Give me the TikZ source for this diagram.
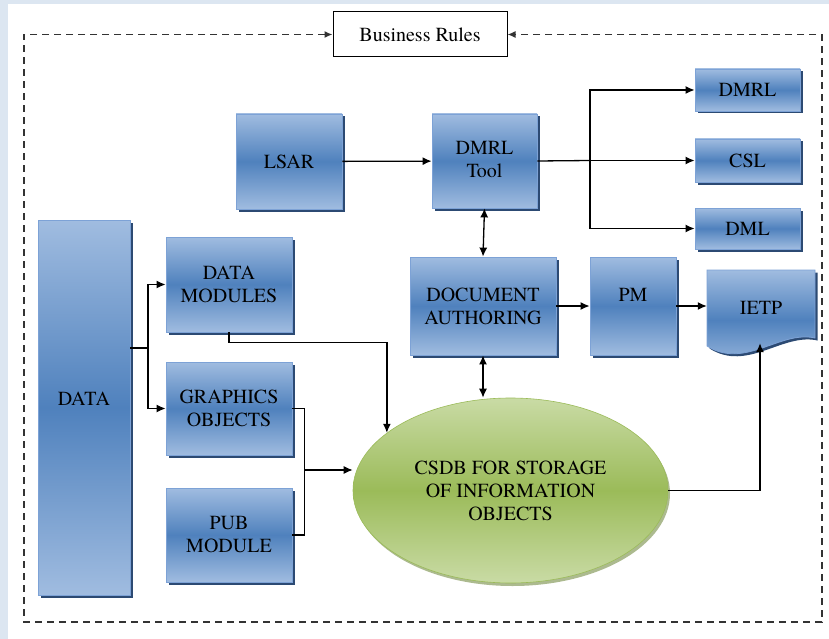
\documentclass[tikz,border=0pt]{standalone}
\usepackage{fontspec}
\setmainfont{texgyretermes}[Extension=.otf, UprightFont=*-regular, BoldFont=*-bold]
\usetikzlibrary{arrows.meta,shapes.geometric,shadows}
\definecolor{boxlight}{HTML}{A0BCE0}
\definecolor{boxdark}{HTML}{4F81BD}
\definecolor{boxedge}{HTML}{7DA2D6}
\definecolor{boxshade}{HTML}{2C4A73}
\definecolor{dblight}{HTML}{C9DBA5}
\definecolor{dbdark}{HTML}{9BBB59}
\definecolor{dbshade}{HTML}{8A9E60}
\definecolor{pagetint}{HTML}{DCE6F1}
\definecolor{framegray}{HTML}{333333}
\newcommand{\lw}{1.3pt}
\newcommand{\txt}{\rmfamily\fontsize{20}{23}\selectfont}

\tikzset{
  blueshade/.style={draw=boxedge, line width=0.8pt, top color=boxlight, bottom color=boxlight, middle color=boxdark,
    drop shadow={shadow xshift=2.5pt, shadow yshift=-2.5pt, fill=boxshade, opacity=1}},
  bluebox/.style={blueshade, rectangle, inner sep=0pt, align=center, font=\txt},
  dbnode/.style={ellipse, draw=dbdark, line width=0.6pt, top color=dblight, bottom color=dblight, middle color=dbdark,
    drop shadow={shadow xshift=2pt, shadow yshift=-3pt, fill=dbshade, opacity=0.7}, inner sep=0pt, align=center, font=\txt},
  rulebox/.style={draw=black, line width=1pt, fill=white, inner sep=0pt, font=\txt},
  link/.style={line width=\lw, black},
  flow/.style={link, -{Latex[length=9pt,width=8pt]}},
  twoway/.style={link, {Latex[length=9pt,width=8pt]}-{Latex[length=9pt,width=8pt]}},
  frame/.style={line width=1.4pt, framegray, dash pattern=on 7pt off 5pt, {Latex[length=8pt,width=7pt]}-{Latex[length=8pt,width=7pt]}}
}

\begin{document}
\begin{tikzpicture}[x=1pt, y=-1pt]
\useasboundingbox (0,0) rectangle (829,639);
\fill[pagetint] (0,0) rectangle (829,639);
\fill[white] (8,4) rectangle (829,639);

% top row
\node[rulebox, minimum width=174pt, minimum height=45pt] (br) at (420,34.5) {Business Rules};
\node[bluebox, minimum width=106pt, minimum height=95pt] (lsar) at (289,161.5) {LSAR};
\node[bluebox, minimum width=105pt, minimum height=94pt] (tool) at (484.5,161) {~\\[-12pt]DMRL\\Tool};
\node[bluebox, minimum width=105pt, minimum height=42pt] (dmrl) at (747.5,90) {DMRL};
\node[bluebox, minimum width=105pt, minimum height=43pt] (csl) at (747.5,160.5) {CSL};
\node[bluebox, minimum width=105pt, minimum height=41pt] (dml) at (747.5,228.5) {DML};

% middle row
\node[bluebox, minimum width=146pt, minimum height=98pt] (doc) at (483,306) {DOCUMENT\\AUTHORING};
\node[bluebox, minimum width=86pt, minimum height=98pt] (pm) at (633,306) {PM\\~};
\coordinate (ietpnw) at (707,270);
\coordinate (ietpse) at (815,346);
\shade[blueshade] (ietpnw) -- (ietpnw -| ietpse) -- ([yshift=8pt]ietpse)
  .. controls ([xshift=-35pt,yshift=16pt]ietpse) and ([xshift=38pt,yshift=-24pt]ietpse -| ietpnw) .. (ietpse -| ietpnw) -- cycle;
\node[inner sep=0pt, minimum width=108pt, minimum height=76pt, font=\txt] (ietp) at (761,308) {IETP};

% left column
\node[bluebox, minimum width=92pt, minimum height=375pt] (data) at (84,407.5) {DATA\\[-5pt]~};
\node[bluebox, minimum width=126pt, minimum height=95pt] (dm) at (229,284.5) {DATA\\MODULES};
\node[bluebox, minimum width=126pt, minimum height=93pt] (go) at (229,408.5) {GRAPHICS\\OBJECTS};
\node[bluebox, minimum width=126pt, minimum height=94pt] (pub) at (229,535) {PUB\\MODULE};

% store
\node[dbnode, minimum width=315pt, minimum height=185pt] (csdb) at (510.5,490.5) {CSDB FOR STORAGE\\OF INFORMATION\\OBJECTS};

% frame
\coordinate (fbl) at (24,622);
\coordinate (fbr) at (822,622);
\draw[frame] (br.west) -| (fbl) -| (fbr) |- (br.east);

% connectors
\coordinate (fork) at (590,160.5);
\coordinate (split) at (148,348);
\coordinate (merge) at (304,470);
\draw[flow] (lsar) -- (tool);
\draw[link] (tool.east) -- (fork);
\draw[flow] (fork) |- (dmrl.west);
\draw[flow] (fork) -- (csl.west);
\draw[flow] (fork) |- (dml.west);
\draw[twoway] (tool.south) -- (doc.north);
\draw[twoway] (doc.south) -- (doc.south |- csdb.north);
\draw[flow] (doc) -- (pm);
\draw[flow] (pm.east) -- (pm.east -| ietp.west);
\draw[link] (data.east |- split) -- (split);
\draw[flow] (split) |- (dm.west);
\draw[flow] (split) |- (go.west);
\draw[flow] (dm.south) -- ++(0,10) -| (csdb.155);
\draw[link] (go.east) -- ++(12,0) |- (pub.east);
\draw[flow] (merge) -- (merge -| csdb.west);
\draw[flow] (csdb.east) -| ([xshift=-1pt,yshift=3pt]ietp.south);
\end{tikzpicture}
\end{document}
